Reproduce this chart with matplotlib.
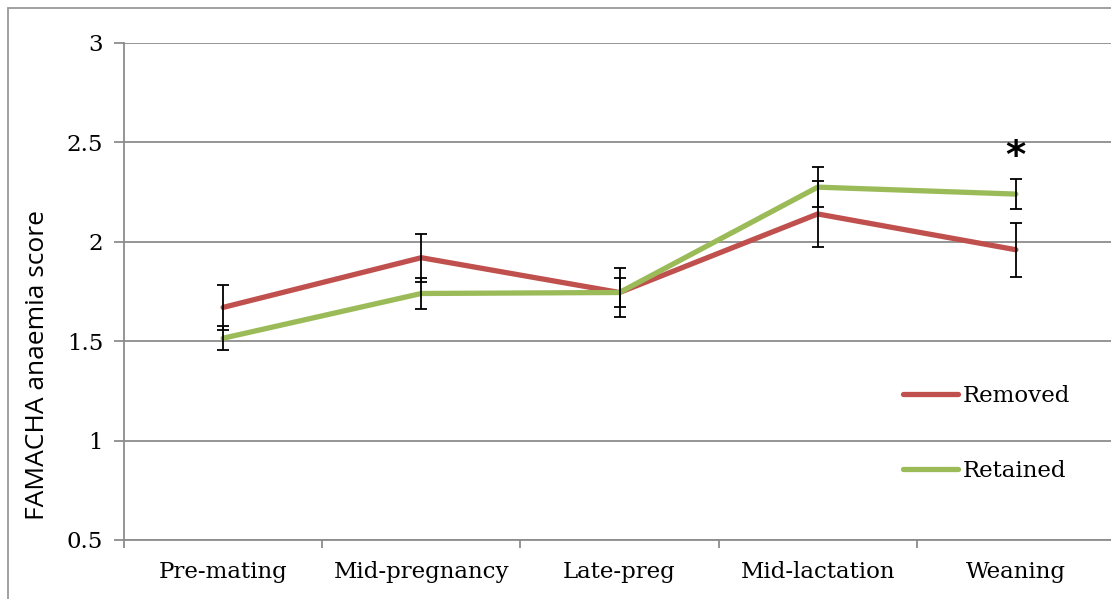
import matplotlib
matplotlib.use("Agg")
import matplotlib.pyplot as plt
from matplotlib.patches import Rectangle
import numpy as np

categories = ["Pre-mating", "Mid-pregnancy", "Late-preg", "Mid-lactation", "Weaning"]
removed = [1.67, 1.92, 1.745, 2.14, 1.96]
removed_err = [0.115, 0.12, 0.125, 0.165, 0.135]
retained = [1.515, 1.74, 1.745, 2.275, 2.24]
retained_err = [0.06, 0.08, 0.075, 0.10, 0.075]
yticks = [0.5, 1, 1.5, 2, 2.5, 3]
ytick_labels = ["0.5", "1", "1.5", "2", "2.5", "3"]

RED = "#C0504D"
GREEN = "#9BBB59"
GRID = "#8c8c8c"

W, H = 1111, 599
fig = plt.figure(figsize=(W / 100, H / 100), dpi=100)
fig.patches.append(Rectangle((8 / W, -0.1), 1.2, 1.1 - 8 / H, transform=fig.transFigure,
                             fill=False, edgecolor="#999999", linewidth=1.3))

ax = fig.add_axes([124 / W, 59 / H, 991 / W, 497 / H])
x = np.arange(len(categories))

ax.plot(x, removed, color=RED, lw=3.8, solid_capstyle="round", zorder=3, label="Removed")
ax.plot(x, retained, color=GREEN, lw=3.8, solid_capstyle="round", zorder=3, label="Retained")
ax.errorbar(x, removed, yerr=removed_err, fmt="none", ecolor="black", elinewidth=1.3,
            capsize=4.3, capthick=1.3, zorder=4)
ax.errorbar(x, retained, yerr=retained_err, fmt="none", ecolor="black", elinewidth=1.3,
            capsize=4.3, capthick=1.3, zorder=4)

ax.set_xlim(-0.5, 4.5)
ax.set_ylim(0.5, 3)
ax.set_yticks(yticks)
ax.set_yticklabels(ytick_labels)
ax.yaxis.grid(True, color=GRID, lw=1.3)
ax.set_axisbelow(True)

ax.set_xticks(np.arange(-0.5, 5, 1))
ax.set_xticklabels([])
ax.set_xticks(x, minor=True)
ax.set_xticklabels(categories, minor=True)
ax.tick_params(axis="x", which="major", length=6, color=GRID, width=1.3, direction="out")
ax.tick_params(axis="x", which="minor", length=0, pad=15)
ax.tick_params(axis="y", length=7, color=GRID, width=1.3, pad=8)
for lab in ax.get_xticklabels(minor=True) + ax.get_yticklabels():
    lab.set_fontfamily("DejaVu Serif")
    lab.set_fontsize(16.5)

for s in ["top", "right"]:
    ax.spines[s].set_visible(False)
for s in ["left", "bottom"]:
    ax.spines[s].set_color(GRID)
    ax.spines[s].set_linewidth(1.3)

fig.text(38 / W, 1 - 365 / H, "FAMACHA anaemia score", rotation=90, ha="center", va="center",
         fontsize=19, family="Open Sans")

ax.text(4, 2.52, "*", ha="center", va="top", fontsize=28, fontweight="bold", family="DejaVu Sans")

leg = ax.legend(loc="upper left", bbox_to_anchor=(770 / 991, (540 - 376) / 497), frameon=False,
                prop={"family": "DejaVu Serif", "size": 16.5}, handlelength=2.4, handletextpad=0.2,
                labelspacing=2.3, borderaxespad=0)

fig.savefig("out.png", dpi=100)
